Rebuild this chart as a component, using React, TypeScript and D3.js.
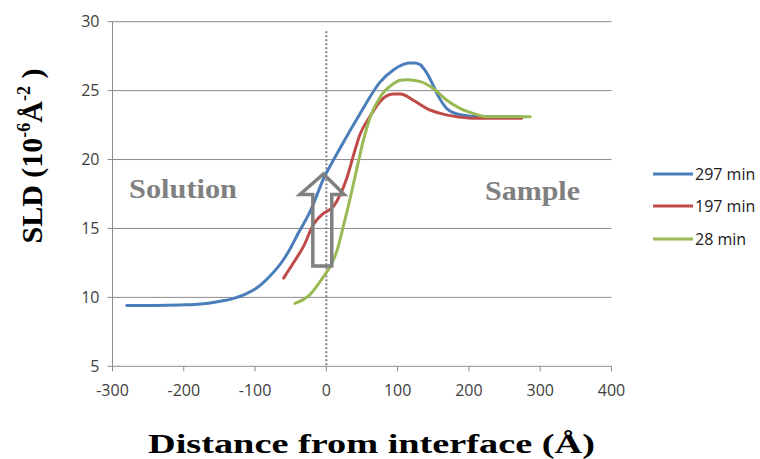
import React from "react";
import * as d3 from "d3";

const xTicks = [-300, -200, -100, 0, 100, 200, 300, 400];
const yTicks = [5, 10, 15, 20, 25, 30];

const blueX = [-280, -240, -205, -180, -163, -145, -130, -115, -100, -79, -60, -50, -40, -23, -4, 19, 47, 75, 94, 108, 117, 124, 131, 138, 145, 157, 169, 188, 216, 245, 272];
const blueY = [9.42, 9.42, 9.45, 9.5, 9.6, 9.75, 9.93, 10.2, 10.6, 11.55, 12.75, 13.6, 14.6, 16.2, 18.6, 20.8, 23.3, 25.6, 26.5, 26.9, 27.0, 27.0, 26.9, 26.5, 25.9, 24.6, 23.7, 23.25, 23.1, 23.1, 23.1];

const redX = [-60, -45, -32, -18, -4, 10, 19, 29, 38, 47, 61, 75, 94, 104, 122, 141, 160, 178, 206, 240, 274];
const redY = [11.4, 12.6, 13.7, 15.3, 16.1, 16.6, 17.4, 18.7, 20.3, 21.8, 23.1, 24.2, 24.75, 24.75, 24.3, 23.7, 23.35, 23.15, 23.0, 23.0, 23.0];

const greenX = [-44, -23, -4, 5, 15, 24, 33, 43, 52, 61, 75, 94, 104, 113, 132, 150, 169, 188, 206, 225, 255, 286];
const greenY = [9.56, 10.2, 11.5, 12.2, 13.4, 15.2, 17.1, 19.4, 21.4, 23.0, 24.5, 25.5, 25.75, 25.78, 25.65, 25.15, 24.3, 23.7, 23.35, 23.1, 23.1, 23.1];

const seriesNames = ["297 min", "197 min", "28 min"];
const seriesColors = ["#4A7EBB", "#BE4B48", "#98B954"];
const seriesX = [blueX, redX, greenX];
const seriesY = [blueY, redY, greenY];

// arrow annotation in data units
const arrowTip = [-4, 18.95];
const arrowHeadHalf = [-37, 25];
const arrowShaft = [-19, 7.6];
const arrowHeadBaseY = 17.46;
const arrowBottomY = 12.27;
const interfaceX = 0;
const interfaceTop = 29.3;

export default function App() {
  const W = 760, H = 459;
  const x = d3.scaleLinear().domain([-300, 400]).range([112.5, 611.5]);
  const y = d3.scaleLinear().domain([5, 30]).range([366.3, 21.7]);
  const line = d3
    .line<[number, number]>()
    .x((d) => x(d[0]))
    .y((d) => y(d[1]))
    .curve(d3.curveMonotoneX);

  const arrowPts: [number, number][] = [
    [arrowTip[0], arrowTip[1]],
    [arrowHeadHalf[1], arrowHeadBaseY],
    [arrowShaft[1], arrowHeadBaseY],
    [arrowShaft[1], arrowBottomY],
    [arrowShaft[0], arrowBottomY],
    [arrowShaft[0], arrowHeadBaseY],
    [arrowHeadHalf[0], arrowHeadBaseY],
  ];
  const arrowPath =
    "M" + arrowPts.map((p) => `${x(p[0])},${y(p[1])}`).join("L") + "Z";

  const tickFont = "'Open Sans', 'Noto Sans', sans-serif";
  const serif = "'Liberation Serif', 'Times New Roman', serif";

  return (
    <svg
      width={W}
      height={H}
      style={{ position: "absolute", left: 0, top: 0, background: "#fff" }}
    >
      {yTicks.map((t) => (
        <line
          key={"g" + t}
          x1={x(-300)}
          x2={x(400)}
          y1={y(t)}
          y2={y(t)}
          stroke="#8c8c8c"
          strokeWidth={1}
        />
      ))}
      <line x1={x(-300)} x2={x(-300)} y1={y(30)} y2={y(5)} stroke="#8c8c8c" />
      {yTicks.map((t) => (
        <line key={"yt" + t} x1={x(-300) - 5} x2={x(-300)} y1={y(t)} y2={y(t)} stroke="#8c8c8c" />
      ))}
      {xTicks.map((t) => (
        <line key={"xt" + t} x1={x(t)} x2={x(t)} y1={y(5)} y2={y(5) + 5} stroke="#8c8c8c" />
      ))}
      {yTicks.map((t) => (
        <text
          key={"yl" + t}
          x={x(-300) - 13}
          y={y(t)}
          dy="0.36em"
          textAnchor="end"
          fontFamily={tickFont}
          fontSize={16}
          fill="#404040"
        >
          {t}
        </text>
      ))}
      {xTicks.map((t) => (
        <text
          key={"xl" + t}
          x={x(t)}
          y={396}
          textAnchor="middle"
          fontFamily={tickFont}
          fontSize={16}
          fill="#404040"
        >
          {t}
        </text>
      ))}
      <line
        x1={x(interfaceX)}
        x2={x(interfaceX)}
        y1={y(interfaceTop)}
        y2={y(5)}
        stroke="#808080"
        strokeWidth={2}
        strokeDasharray="2,2"
      />
      {seriesNames.map((n, i) => (
        <path
          key={n}
          d={line(seriesX[i].map((v, j) => [v, seriesY[i][j]] as [number, number])) || ""}
          fill="none"
          stroke={seriesColors[i]}
          strokeWidth={3}
          strokeLinecap="round"
        />
      ))}
      <path d={arrowPath} fill="none" stroke="#808080" strokeWidth={3.5} strokeLinejoin="miter" />
      <text
        x={129}
        y={198}
        fontFamily={serif}
        fontWeight="bold"
        fontSize={28}
        fill="#808080"
        textLength={108}
        lengthAdjust="spacingAndGlyphs"
      >
        Solution
      </text>
      <text
        x={485}
        y={199.5}
        fontFamily={serif}
        fontWeight="bold"
        fontSize={28}
        fill="#808080"
        textLength={95}
        lengthAdjust="spacingAndGlyphs"
      >
        Sample
      </text>
      {seriesNames.map((n, i) => {
        const ly = [174, 206, 239][i];
        return (
          <g key={"lg" + n}>
            <line x1={653} x2={693} y1={ly} y2={ly} stroke={seriesColors[i]} strokeWidth={3} />
            <text
              x={695}
              y={ly}
              dy="0.36em"
              fontFamily={tickFont}
              fontSize={16}
              fill="#202020"
            >
              {n}
            </text>
          </g>
        );
      })}
      <text
        x={148}
        y={453}
        fontFamily={serif}
        fontWeight="bold"
        fontSize={28}
        fill="#000"
        textLength={447}
        lengthAdjust="spacingAndGlyphs"
      >
        Distance from interface (Å)
      </text>
      <text
        transform={`translate(42,156) rotate(-90)`}
        textAnchor="middle"
        fontFamily={serif}
        fontWeight="bold"
        fontSize={30}
        fill="#000"
      >
        SLD (10
        <tspan fontSize={18} dy={-12}>-6</tspan>
        <tspan dy={12}>Å</tspan>
        <tspan fontSize={18} dy={-12}>-2</tspan>
        <tspan dy={12}> )</tspan>
      </text>
    </svg>
  );
}
